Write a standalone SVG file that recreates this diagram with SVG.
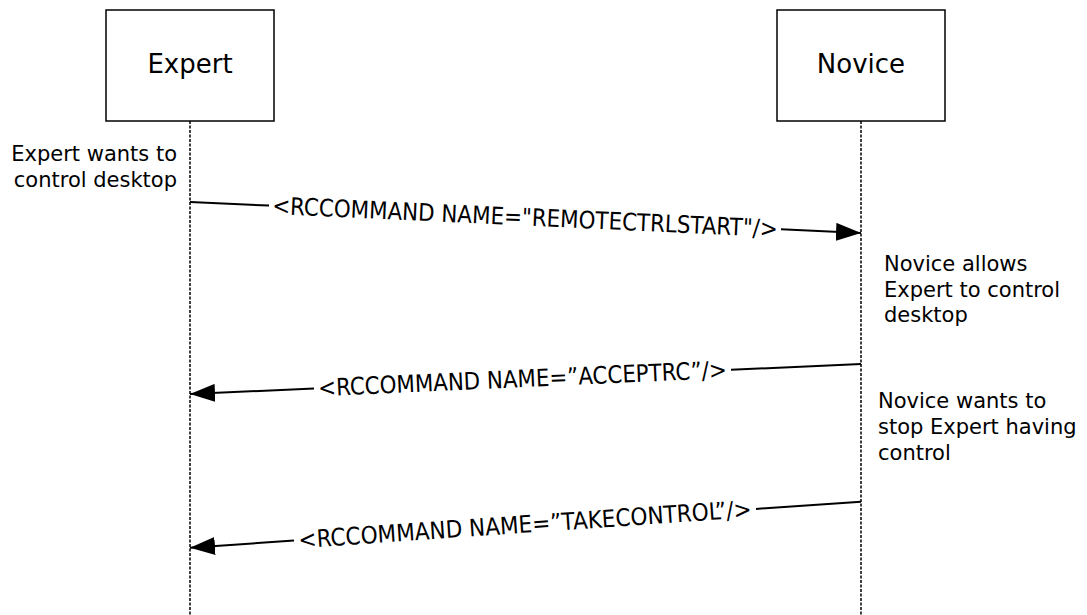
<svg xmlns="http://www.w3.org/2000/svg" width="1087" height="615" viewBox="0 0 1087 615">
  <style>
    .box { fill: #fff; stroke: #000; stroke-width: 1.5; }
    .life { stroke: #000; stroke-width: 1.5; stroke-dasharray: 3 1.5; fill: none; }
    .msg { stroke: #000; stroke-width: 2; fill: none; }
    .title { font-family: "DejaVu Sans", Verdana, sans-serif; font-size: 26px; fill: #000; text-anchor: middle; }
    .note { font-family: "DejaVu Sans", Verdana, sans-serif; font-size: 21px; fill: #000; }
    .lbl { font-family: "DejaVu Sans", Verdana, sans-serif; font-size: 24px; fill: #000; text-anchor: middle; dominant-baseline: central; }
  </style>
  <defs>
    <marker id="arr" markerUnits="userSpaceOnUse" markerWidth="25" markerHeight="18" refX="25" refY="9" orient="auto">
      <path d="M0,0 L25,9 L0,18 z" fill="#000"/>
    </marker>
  </defs>

  <rect width="1087" height="615" fill="#fff"/>

  <g id="expert">
    <rect class="box" x="106" y="10" width="168" height="111"/>
    <text class="title" x="190" y="73">Expert</text>
    <line class="life" x1="190" y1="121" x2="190" y2="615"/>
  </g>

  <g id="novice">
    <rect class="box" x="777" y="10" width="168" height="111"/>
    <text class="title" x="861" y="73">Novice</text>
    <line class="life" x1="861" y1="121" x2="861" y2="615"/>
  </g>

  <g id="note-expert-wants">
    <text class="note" x="177" y="161" text-anchor="end">Expert wants to</text>
    <text class="note" x="177" y="187" text-anchor="end">control desktop</text>
  </g>

  <g id="note-novice-allows">
    <text class="note" x="884" y="271">Novice allows</text>
    <text class="note" x="884" y="297">Expert to control</text>
    <text class="note" x="884" y="322">desktop</text>
  </g>

  <g id="note-novice-wants">
    <text class="note" x="878" y="408">Novice wants to</text>
    <text class="note" x="878" y="434">stop Expert having</text>
    <text class="note" x="878" y="460">control</text>
  </g>

  <g id="connectors">
    <!-- REMOTECTRLSTART: Expert -> Novice -->
    <line class="msg" x1="190" y1="202" x2="269" y2="205.6"/>
    <line class="msg" x1="781" y1="229.3" x2="861" y2="233" marker-end="url(#arr)"/>
    <text class="lbl" x="525" y="217.5" transform="rotate(2.645 525 217.5)" textLength="506" lengthAdjust="spacingAndGlyphs">&lt;RCCOMMAND NAME="REMOTECTRLSTART"/&gt;</text>

    <!-- ACCEPTRC: Novice -> Expert -->
    <line class="msg" x1="861" y1="364" x2="731" y2="369.8"/>
    <line class="msg" x1="314" y1="388.5" x2="190" y2="394" marker-end="url(#arr)"/>
    <text class="lbl" x="522.5" y="379.1" transform="rotate(-2.56 522.5 379.1)" textLength="409" lengthAdjust="spacingAndGlyphs">&lt;RCCOMMAND NAME=”ACCEPTRC”/&gt;</text>

    <!-- TAKECONTROL: Novice -> Expert -->
    <line class="msg" x1="861" y1="501.7" x2="756" y2="508.9"/>
    <line class="msg" x1="294" y1="540.5" x2="190" y2="547.7" marker-end="url(#arr)"/>
    <text class="lbl" x="525" y="524.7" transform="rotate(-3.92 525 524.7)" textLength="454" lengthAdjust="spacingAndGlyphs">&lt;RCCOMMAND NAME=”TAKECONTROL”/&gt;</text>
  </g>
</svg>
